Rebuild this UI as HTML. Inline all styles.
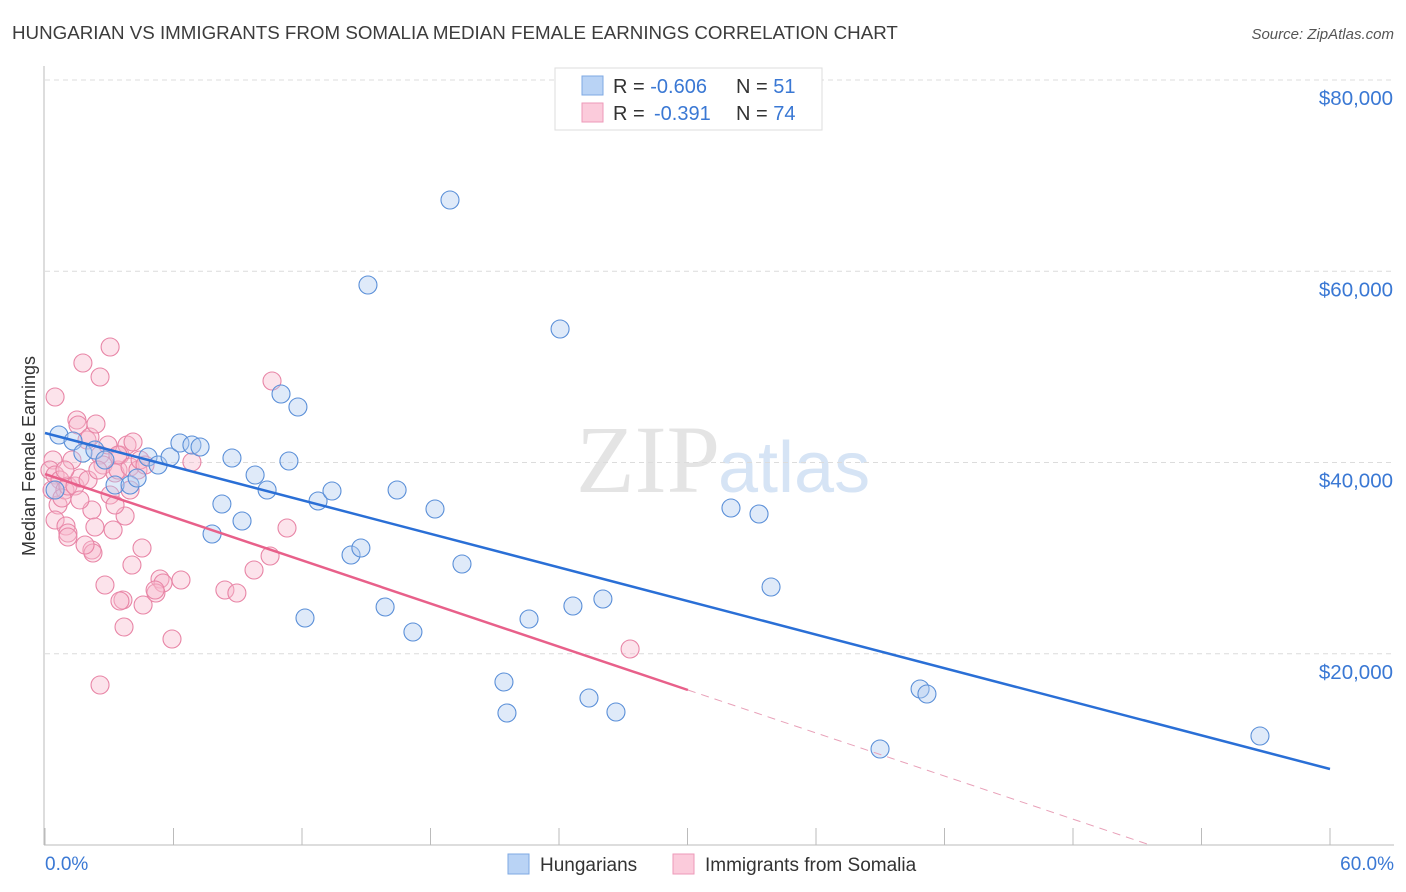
<!DOCTYPE html>
<html><head><meta charset="utf-8"><style>
body{margin:0;background:#fff;font-family:"Liberation Sans",sans-serif;}
#wrap{position:relative;width:1406px;height:892px;overflow:hidden;}
</style></head><body>
<div id="wrap">
<svg id="svg" width="1406" height="892" xmlns="http://www.w3.org/2000/svg">
<text x="12" y="39" font-size="18.75" fill="#3c3c3c">HUNGARIAN VS IMMIGRANTS FROM SOMALIA MEDIAN FEMALE EARNINGS CORRELATION CHART</text>
<text x="1394" y="39" font-size="15" fill="#555" font-style="italic" text-anchor="end">Source: ZipAtlas.com</text>
<text x="720" y="492" font-size="96" fill="#e4e4e4" text-anchor="end" font-family="Liberation Serif,serif">ZIP</text>
<text x="718" y="492" font-size="72" fill="#d6e4f5">atlas</text>
<text x="35" y="456" font-size="18" fill="#333" text-anchor="middle" transform="rotate(-90 35 456)">Median Female Earnings</text>
<g id="grid"></g><g id="marks"></g>
<g>
<rect x="555" y="68" width="267" height="62" fill="#fff" stroke="#ddd"/>
<rect x="582" y="76" width="21" height="19" fill="#b9d3f5" stroke="#7ea8e3"/>
<rect x="582" y="103" width="21" height="19" fill="#fbcbdb" stroke="#ee9ab8"/>
<text x="613" y="93" font-size="20" fill="#333">R = <tspan fill="#3a78d4">-0.606</tspan><tspan x="736">N = </tspan><tspan fill="#3a78d4">51</tspan></text>
<text x="613" y="120" font-size="20" fill="#333">R = <tspan x="654" fill="#3a78d4">-0.391</tspan><tspan x="736">N = </tspan><tspan fill="#3a78d4">74</tspan></text>
</g>
<g>
<rect x="508" y="854" width="21" height="20" fill="#b9d3f5" stroke="#7ea8e3"/>
<text x="540" y="871" font-size="19" fill="#333">Hungarians</text>
<rect x="673" y="854" width="21" height="20" fill="#fbcbdb" stroke="#ee9ab8"/>
<text x="705" y="871" font-size="19" fill="#333">Immigrants from Somalia</text>
</g>
<text x="45" y="870" font-size="19" fill="#3a78d4">0.0%</text>
<text x="1394" y="870" font-size="19" fill="#3a78d4" text-anchor="end">60.0%</text>
</svg></div>
<script>
const yTicks=[20000,40000,60000,80000];
const yTickLabels=["$20,000","$40,000","$60,000","$80,000"];
const xTicks=[0,6,12,18,24,30,36,42,48,54,60];
const bluePx=[[59,435],[73,441],[83,453],[95,450],[105,460],[115,485],[130,485],[137,478],[148,457],[158,465],[170,457],[180,443],[192,445],[200,447],[222,504],[212,534],[232,458],[242,521],[255,475],[267,490],[281,394],[289,461],[298,407],[305,618],[318,501],[332,491],[351,555],[361,548],[368,285],[385,607],[397,490],[413,632],[435,509],[450,200],[462,564],[504,682],[507,713],[529,619],[560,329],[573,606],[589,698],[603,599],[616,712],[731,508],[759,514],[771,587],[880,749],[920,689],[927,694],[1260,736],[55,490]];
const pinkPx=[[55,397],[53,460],[50,470],[55,475],[60,480],[52,490],[58,505],[65,490],[62,498],[68,486],[75,486],[80,478],[83,363],[100,377],[110,347],[55,520],[66,526],[68,533],[77,420],[78,425],[87,440],[90,437],[96,424],[100,455],[103,465],[92,510],[95,527],[92,550],[93,553],[105,585],[110,495],[115,473],[118,470],[120,455],[127,445],[133,442],[130,467],[138,470],[125,516],[113,530],[123,600],[120,601],[124,627],[132,565],[142,548],[143,605],[140,460],[130,490],[160,579],[163,583],[172,639],[181,580],[156,593],[100,685],[192,462],[225,590],[237,593],[254,570],[270,556],[272,381],[287,528],[630,649],[88,480],[80,500],[72,460],[65,470],[108,445],[115,505],[85,545],[145,465],[155,590],[118,455],[98,470],[68,537]];
const blueX=bluePx.map(p=>+((p[0]-45)/1285*60).toFixed(2));
const blueY=bluePx.map(p=>Math.round((845-p[1])/765*80000));
const pinkX=pinkPx.map(p=>+((p[0]-45)/1285*60).toFixed(2));
const pinkY=pinkPx.map(p=>Math.round((845-p[1])/765*80000));
const blueLine=[[0,43085],[60,7948]];
const pinkLine=[[0,38797],[30.02,16209]];
const pinkDash=[[30.02,16209],[51.6,0]];

const sx=v=>45+v/60*1285, sy=v=>845-v/80000*765;
const NS="http://www.w3.org/2000/svg";
const g=document.getElementById('grid'), m=document.getElementById('marks');
function mk(tag,at,parent){const e=document.createElementNS(NS,tag);for(const k in at)e.setAttribute(k,at[k]);parent.appendChild(e);return e;}
yTicks.forEach((t,i)=>{
 const l=mk('line',{x1:45,x2:1394,y1:sy(t),y2:sy(t),stroke:'#dcdcdc','stroke-dasharray':'5,4'},g);
 
 
 const tx=mk('text',{x:1393,y:sy(t)+25,'font-size':20.5,fill:'#3a78d4','text-anchor':'end'},g);
 tx.textContent=yTickLabels[i];
 
 
});
const ax=mk('line',{x1:44,x2:44,y1:66,y2:845,stroke:'#bbb'},g);


const bx=mk('line',{x1:44,x2:1394,y1:845,y2:845,stroke:'#bbb'},g);


xTicks.forEach(t=>{
 const l=mk('line',{x1:sx(t),x2:sx(t),y1:828,y2:845,stroke:'#bbb'},g);
 
 
});
function pts(X,Y,fill,stroke,name){X.forEach((x,i)=>{
 const c=mk('circle',{cx:sx(x),cy:sy(Y[i]),r:9,fill:fill,'fill-opacity':0.4,stroke:stroke,'stroke-width':1.1},m);
 
 
});}
pts(pinkX,pinkY,'#f7b8cc','#e885a6','somalia-point');
pts(blueX,blueY,'#aecbf0','#5a8fd8','hungarian-point');
function ln(L,col,dash,name){const e=mk('line',{x1:sx(L[0][0]),y1:sy(L[0][1]),x2:sx(L[1][0]),y2:sy(L[1][1]),stroke:col,'stroke-width':dash?1:2.5},m);
 if(dash)e.setAttribute('stroke-dasharray','8,6');
 
 }
ln(blueLine,'#2a6fd6',false,'hungarian-trendline');
ln(pinkLine,'#e8608a',false,'somalia-trendline');
ln(pinkDash,'#e8a0b8',true,'somalia-trendline-extension');
</script>
</body></html>
